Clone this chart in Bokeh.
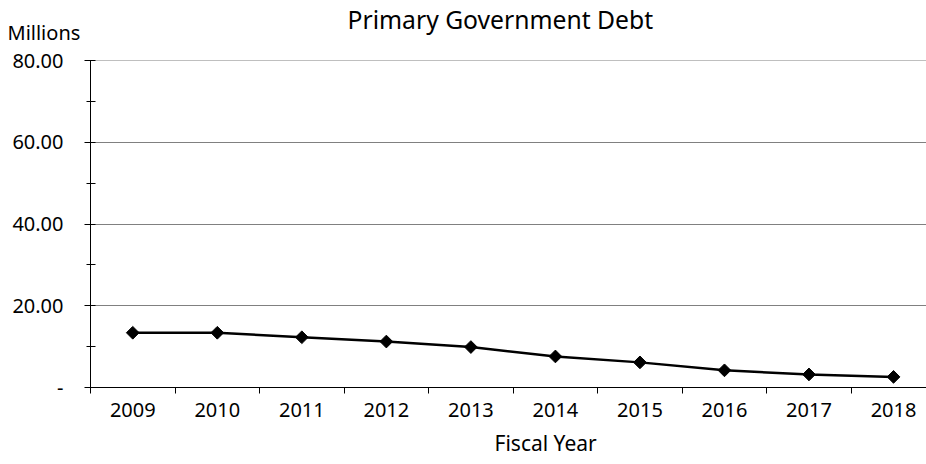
import math
from bokeh.plotting import figure
from bokeh.models import FixedTicker, Title, Range1d
from bokeh.embed import file_html
from bokeh.resources import INLINE

years = ["2009", "2010", "2011", "2012", "2013", "2014", "2015", "2016", "2017", "2018"]
debt = [13.4, 13.4, 12.3, 11.25, 9.9, 7.6, 6.15, 4.2, 3.2, 2.6]
y_ticks = [0, 20, 40, 60, 80]
y_tick_labels = ["-", "20.00", "40.00", "60.00", "80.00"]

FONT = "Noto Sans"
xs = list(range(len(years)))

p = figure(width=926, height=464, output_backend="svg", toolbar_location=None,
           x_range=Range1d(-0.5, 9.39), y_range=Range1d(0, 80.05),
           min_border_left=90, min_border_right=0, min_border_top=60, min_border_bottom=77)
p.outline_line_color = None
p.background_fill_color = "white"
p.border_fill_color = "white"

p.line(xs, debt, line_color="black", line_width=2.5)
p.scatter(xs, debt, marker="square", angle=math.pi / 4, size=9, fill_color="black", line_color="black")

# x axis
p.xaxis.ticker = FixedTicker(ticks=xs, minor_ticks=[i - 0.5 for i in range(len(years) + 1)])
p.xaxis.major_label_overrides = {i: y for i, y in enumerate(years)}
p.xaxis.major_tick_line_color = None
p.xaxis.major_tick_out = 6
p.xaxis.major_tick_in = 0
p.xaxis.minor_tick_out = 6
p.xaxis.minor_tick_in = 0
p.xaxis.minor_tick_line_color = "black"
p.xaxis.axis_line_color = "black"
p.xaxis.major_label_text_font = FONT
p.xaxis.major_label_text_font_size = "20px"
p.xaxis.major_label_text_color = "black"
p.xaxis.major_label_standoff = 9

# y axis
p.yaxis.ticker = FixedTicker(ticks=y_ticks, minor_ticks=[10, 30, 50, 70])
p.yaxis.major_label_overrides = {t: l for t, l in zip(y_ticks, y_tick_labels)}
p.yaxis.major_tick_out = 6
p.yaxis.major_tick_in = 5
p.yaxis.minor_tick_out = 4
p.yaxis.minor_tick_in = 5
p.yaxis.major_tick_line_color = "black"
p.yaxis.minor_tick_line_color = "black"
p.yaxis.axis_line_color = "black"
p.yaxis.major_label_text_font = FONT
p.yaxis.major_label_text_font_size = "20px"
p.yaxis.major_label_text_color = "black"
p.yaxis.major_label_standoff = 21

p.xgrid.grid_line_color = None
p.ygrid.ticker = FixedTicker(ticks=[20, 40, 60, 80])
p.ygrid.grid_line_color = "#808080"
p.ygrid.grid_line_width = 1

p.add_layout(Title(text="Millions", align="left", offset=-83, standoff=30,
                   text_font=FONT, text_font_size="20px", text_font_style="normal",
                   text_color="black"), "above")
p.add_layout(Title(text="Primary Government Debt", align="left", offset=257, standoff=-69,
                   text_font=FONT, text_font_size="24.7px", text_font_style="normal",
                   text_color="black"), "above")
p.add_layout(Title(text="Fiscal Year", align="left", offset=404, standoff=15,
                   text_font=FONT, text_font_size="21px", text_font_style="normal",
                   text_color="black"), "below")

open("out.html", "w").write(file_html(p, INLINE))
